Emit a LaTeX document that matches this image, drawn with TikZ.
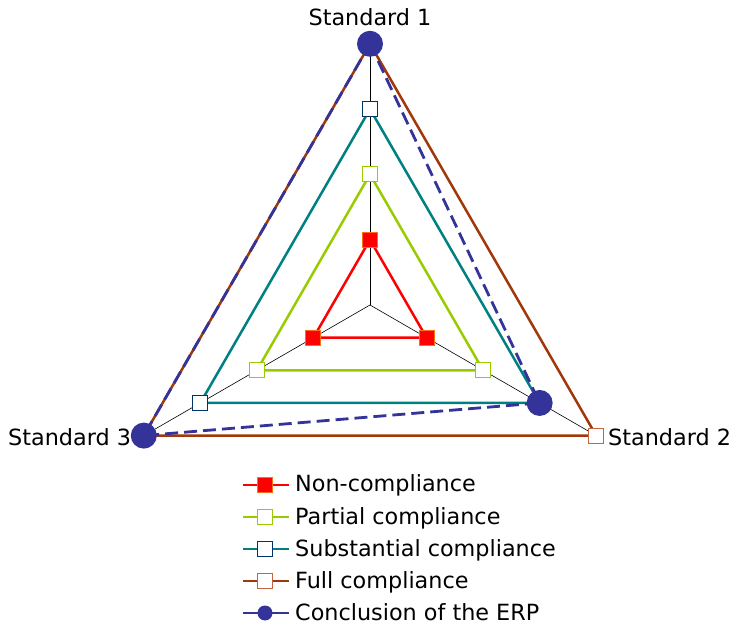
\documentclass[tikz,border=0pt]{standalone}
\usepackage{fontspec}
\setmainfont{DejaVu Sans}
\definecolor{nonc}{RGB}{255,0,0}
\definecolor{noncb}{RGB}{255,110,20}
\definecolor{part}{RGB}{153,204,0}
\definecolor{subs}{RGB}{0,128,128}
\definecolor{subsb}{RGB}{0,51,102}
\definecolor{full}{RGB}{160,56,10}
\definecolor{fullb}{RGB}{196,100,64}
\definecolor{erp}{RGB}{51,51,153}
\begin{document}
\begin{tikzpicture}[x=1bp,y=1bp,
  axisline/.style={black,line width=0.6bp},
  lvl/.style={line width=2.5bp,line join=round},
  sq/.style={draw,rectangle,minimum size=15bp,inner sep=0pt,line width=1bp},
  erpdot/.style={circle,fill=erp,minimum size=26bp,inner sep=0pt},
  legdot/.style={circle,fill=erp,minimum size=15bp,inner sep=0pt},
  erpline/.style={erp,line width=2.8bp,dash pattern=on 13bp off 6bp},
  lbl/.style={font=\fontsize{22.4}{26}\selectfont,inner sep=0pt}
]
\useasboundingbox (-370,-323) rectangle (365,305);
\coordinate (O) at (0,0);
\foreach \k in {1,2,3,4}{
  \coordinate (a\k) at (90:\k*65.3);
  \coordinate (b\k) at (-30:\k*65.3);
  \coordinate (c\k) at (210:\k*65.3);
}
% axes
\draw[axisline] (O) -- (a4);
\draw[axisline] (O) -- (b4);
\draw[axisline] (O) -- (c4);
% level triangles
\draw[lvl,nonc] (a1) -- (b1) -- (c1) -- cycle;
\draw[lvl,part] (a2) -- (b2) -- (c2) -- cycle;
\draw[lvl,subs] (a3) -- (b3) -- (c3) -- cycle;
\draw[lvl,full] (a4) -- (b4) -- (c4) -- cycle;
% ERP
\draw[erpline] (a4) -- (b3) -- (c4) -- cycle;
% markers
\foreach \p in {a,b,c}{
  \node[sq,fill=nonc,draw=noncb] (m1\p) at (\p1) {};
  \node[sq,fill=white,draw=part] (m2\p) at (\p2) {};
  \node[sq,fill=white,draw=subsb] (m3\p) at (\p3) {};
  \node[sq,fill=white,draw=fullb] (m4\p) at (\p4) {};
}
% axis labels
\node[lbl,anchor=base] (s1) at (0,279) {Standard 1};
\node[lbl,anchor=base west] (s2) at (238,-141) {Standard 2};
\node[lbl,anchor=base west] (s3) at (-362,-141) {Standard 3};
\node[erpdot] (e1) at (a4) {};
\node[erpdot] (e2) at (b3) {};
\node[erpdot] (e3) at (c4) {};
% legend
\foreach \i/\y in {1/-180,2/-212,3/-244,4/-276,5/-308}{
  \coordinate (ls\i) at (-127,\y);
  \coordinate (le\i) at (-81,\y);
}
\draw[lvl,nonc] (ls1) -- (le1);
\node[sq,fill=nonc,draw=noncb] (lm1) at (-105,-180) {};
\draw[lvl,part] (ls2) -- (le2);
\node[sq,fill=white,draw=part] (lm2) at (-105,-212) {};
\draw[lvl,subs] (ls3) -- (le3);
\node[sq,fill=white,draw=subsb] (lm3) at (-105,-244) {};
\draw[lvl,full] (ls4) -- (le4);
\node[sq,fill=white,draw=fullb] (lm4) at (-105,-276) {};
\draw[erp,line width=2.5bp] (ls5) -- (le5);
\node[legdot] (lm5) at (-105,-308) {};
\node[lbl,anchor=base west] (t1) at (-75,-187) {Non-compliance};
\node[lbl,anchor=base west] (t2) at (-75,-219) {Partial compliance};
\node[lbl,anchor=base west] (t3) at (-75,-251) {Substantial compliance};
\node[lbl,anchor=base west] (t4) at (-75,-283) {Full compliance};
\node[lbl,anchor=base west] (t5) at (-75,-315) {Conclusion of the ERP};
\end{tikzpicture}
\end{document}
